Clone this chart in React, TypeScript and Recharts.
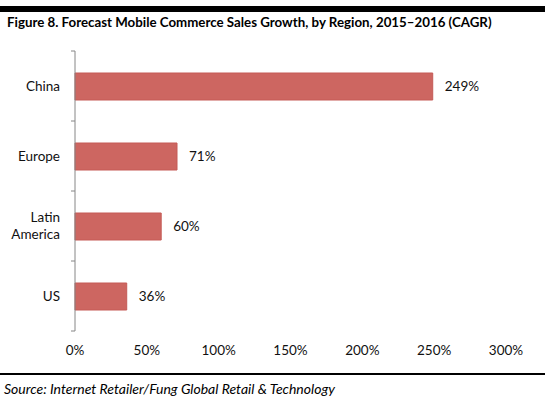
import { BarChart, Bar, XAxis, YAxis, LabelList } from 'recharts';

const regions = ['China', 'Europe', 'Latin America', 'US'];
const cagr = [249, 71, 60, 36];
const xTicks = [0, 50, 100, 150, 200, 250, 300];

const data = regions.map((region, i) => ({ region, cagr: cagr[i] }));

const FONT = 'Lato, "Open Sans", sans-serif';
const Y_AXIS_W = 75;
const PLOT_TOP = 51;
const PLOT_BOTTOM = 71;
const CHART_H = 402;

const RegionTick = (props: any) => {
  const { y, payload, index } = props;
  const band = (CHART_H - PLOT_TOP - PLOT_BOTTOM) / regions.length;
  const half = band / 2;
  const ax = Y_AXIS_W;
  const tx = ax - 15;
  const words = payload.value === 'Latin America' ? ['Latin', 'America'] : [payload.value];
  const lineH = 17;
  const startDy = -((words.length - 1) * lineH) / 2;
  return (
    <g>
      <line x1={ax - 4} x2={ax} y1={y - half} y2={y - half} stroke="#868686" />
      {index === regions.length - 1 && (
        <line x1={ax - 4} x2={ax} y1={y + half} y2={y + half} stroke="#868686" />
      )}
      <text x={tx} y={y} textAnchor="end" fontSize={13.5} fill="#111" fontFamily={FONT}>
        {words.map((w, i) => (
          <tspan key={w} x={tx} dy={i === 0 ? startDy + 4.5 : lineH}>
            {w}
          </tspan>
        ))}
      </text>
    </g>
  );
};

const App = () => {
  return (
    <div style={{ position: 'absolute', left: 0, top: 0, width: 550, height: CHART_H, background: '#fff' }}>
      <div style={{ position: 'absolute', left: 0, top: 6, width: 545, height: 6, background: '#000' }} />
      <div
        style={{
          position: 'absolute',
          left: 7,
          top: 14,
          fontFamily: FONT,
          fontWeight: 700,
          fontSize: 13.3,
          color: '#000',
          whiteSpace: 'nowrap',
        }}
      >
        Figure 8. Forecast Mobile Commerce Sales Growth, by Region, 2015–2016 (CAGR)
      </div>
      <BarChart
        width={550}
        height={CHART_H}
        data={data}
        layout="vertical"
        margin={{ top: PLOT_TOP, right: 44, bottom: PLOT_BOTTOM - 30, left: 0 }}
        barSize={27}
      >
        <XAxis
          type="number"
          domain={[0, 300]}
          ticks={xTicks}
          tickFormatter={(v) => `${v}%`}
          axisLine={false}
          tickLine={false}
          tickMargin={8}
          height={30}
          tick={{ fontSize: 13.5, fill: '#111', fontFamily: FONT }}
        />
        <YAxis
          type="category"
          dataKey="region"
          width={Y_AXIS_W}
          axisLine={{ stroke: '#868686' }}
          tickLine={false}
          tick={<RegionTick />}
        />
        <Bar dataKey="cagr" fill="#cd6661" stroke="#c55a56" isAnimationActive={false}>
          <LabelList
            dataKey="cagr"
            position="right"
            offset={12}
            formatter={(v: any) => `${v}%`}
            style={{ fontSize: 13.5, fill: '#111', fontFamily: FONT }}
          />
        </Bar>
      </BarChart>
      <div style={{ position: 'absolute', left: 0, top: 373, width: 545, height: 2, background: '#000' }} />
      <div
        style={{
          position: 'absolute',
          left: 4,
          top: 380,
          fontFamily: FONT,
          fontStyle: 'italic',
          fontSize: 14,
          color: '#000',
          whiteSpace: 'nowrap',
        }}
      >
        Source: Internet Retailer/Fung Global Retail &amp; Technology
      </div>
    </div>
  );
};

export default App;
